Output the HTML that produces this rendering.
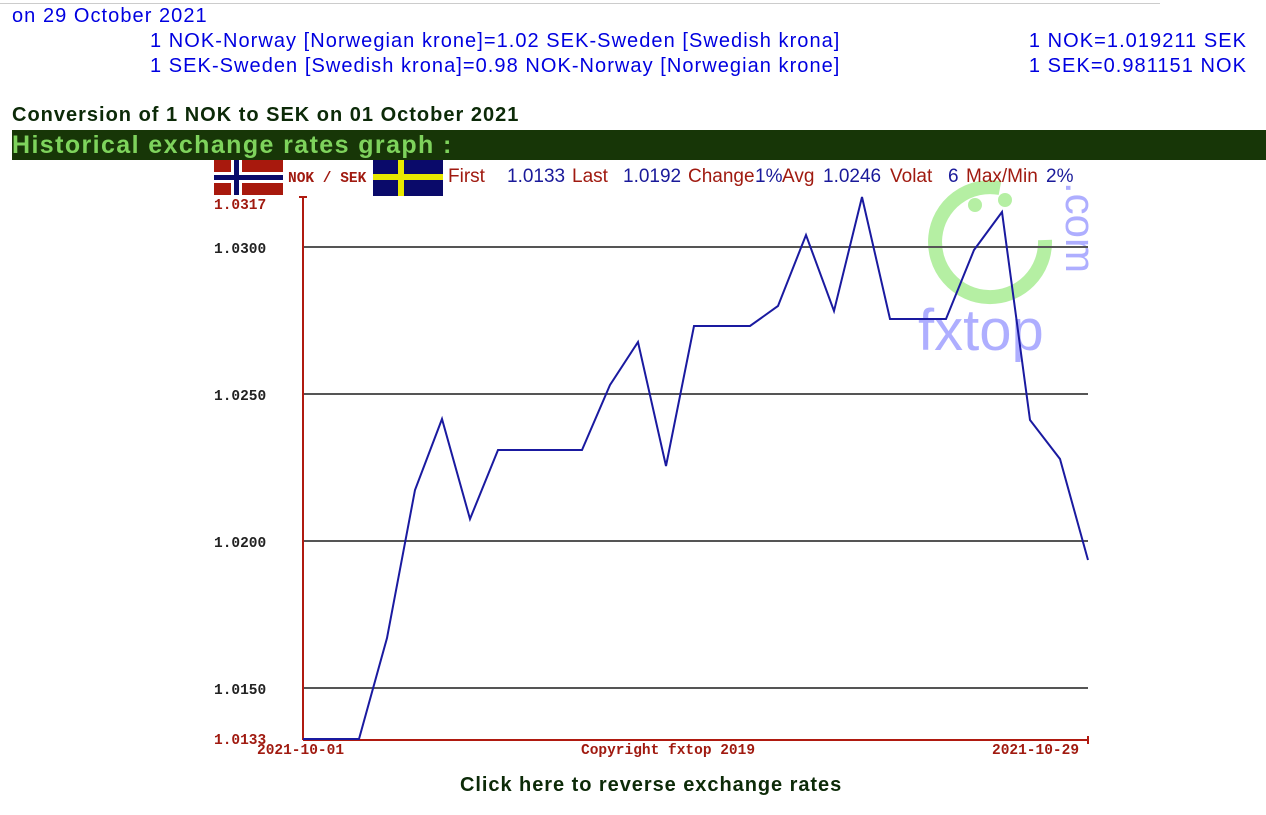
<!DOCTYPE html>
<html><head><style>
body{margin:0;width:1266px;height:815px;background:#fff;font-family:"Liberation Sans",sans-serif;position:relative;overflow:hidden}
.a{position:absolute;white-space:nowrap}
.b{color:#0000e0;font-size:20px;letter-spacing:1.05px}
</style></head><body>
<div class="a" style="left:0;top:3px;width:1160px;border-top:1px solid #ccc"></div>
<div class="a b" style="left:12px;top:5px">on 29 October 2021</div>
<div class="a b" style="left:150px;top:30px">1 NOK-Norway [Norwegian krone]=1.02 SEK-Sweden [Swedish krona]</div>
<div class="a b" style="left:150px;top:55px">1 SEK-Sweden [Swedish krona]=0.98 NOK-Norway [Norwegian krone]</div>
<div class="a b" style="right:19px;top:30px">1 NOK=1.019211 SEK</div>
<div class="a b" style="right:19px;top:55px">1 SEK=0.981151 NOK</div>
<div class="a" style="left:12px;top:104px;font-size:20px;letter-spacing:1px;font-weight:bold;color:#0c2a08">Conversion of 1 NOK to SEK on 01 October 2021</div>
<div class="a" style="left:12px;top:130px;width:1254px;height:30px;background:#173607;color:#7ed35c;font-weight:bold;font-size:25px;letter-spacing:1.4px;line-height:30px">Historical exchange rates graph :</div>
<div class="a" style="left:460px;top:774px;font-size:20px;letter-spacing:0.95px;font-weight:bold;color:#0c2a08">Click here to reverse exchange rates</div>
<svg class="a" style="left:0;top:0" width="1266" height="815">
<g opacity="0.5">
<path d="M1000 188 A55 55 0 1 0 1045 240" fill="none" stroke="#6de04a" stroke-width="14"/>
<circle cx="975" cy="205" r="7" fill="#6de04a"/><circle cx="1005" cy="200" r="7" fill="#6de04a"/>
<text x="918" y="350" font-family="Liberation Sans,sans-serif" font-size="58" fill="#6060ff">fxtop</text>
<text x="1066" y="182" font-family="Liberation Sans,sans-serif" font-size="42" fill="#6060ff" transform="rotate(90 1066 182)">.com</text>
</g>
<g font-family="Liberation Mono,monospace" font-weight="bold" font-size="14.5">
<rect x="214" y="160" width="69" height="35" fill="#a8190d"/><rect x="214" y="172" width="69" height="11" fill="#fff"/><rect x="231" y="160" width="11" height="35" fill="#fff"/><rect x="214" y="175" width="69" height="5" fill="#0a0a6a"/><rect x="234" y="160" width="5" height="35" fill="#0a0a6a"/>
<text x="288" y="182" fill="#a01a10">NOK / SEK</text>
<rect x="373" y="160" width="70" height="36" fill="#0a0a6a"/><rect x="373" y="174" width="70" height="6" fill="#e8e800"/><rect x="398" y="160" width="6" height="36" fill="#e8e800"/>
</g>
<g font-family="Liberation Sans,sans-serif" font-size="19">
<text x="448" y="182" fill="#a01a10">First</text><text x="507" y="182" fill="#1a1a9a">1.0133</text>
<text x="572" y="182" fill="#a01a10">Last</text><text x="623" y="182" fill="#1a1a9a">1.0192</text>
<text x="688" y="182" fill="#a01a10">Change</text><text x="755" y="182" fill="#1a1a9a">1%</text>
<text x="782" y="182" fill="#a01a10">Avg</text><text x="823" y="182" fill="#1a1a9a">1.0246</text>
<text x="890" y="182" fill="#a01a10">Volat</text><text x="948" y="182" fill="#1a1a9a">6</text>
<text x="966" y="182" fill="#a01a10">Max/Min</text><text x="1046" y="182" fill="#1a1a9a">2%</text>
</g>
<g stroke="#555" stroke-width="2">
<line x1="303" y1="247" x2="1088" y2="247"/><line x1="303" y1="394" x2="1088" y2="394"/><line x1="303" y1="541" x2="1088" y2="541"/><line x1="303" y1="688" x2="1088" y2="688"/>
</g>
<g stroke="#b01a10" stroke-width="2">
<line x1="303" y1="197" x2="303" y2="740"/><line x1="299" y1="197" x2="307" y2="197"/><line x1="303" y1="740" x2="1088" y2="740"/><line x1="1088" y1="736" x2="1088" y2="744"/>
</g>
<polyline fill="none" stroke="#1a1aa0" stroke-width="2" points="303,739 359,739 387,638 415,490 442,419 470,519 498,450 526,450 554,450 582,450 610,385 638,342 666,466 694,326 722,326 750,326 778,306 806,235 834,311 862,197 890,319 918,319 946,319 974,250 1002,212 1030,420 1060,459 1088,560"/>
<g font-family="Liberation Mono,monospace" font-weight="bold" font-size="14.5">
<text x="214" y="209" fill="#a01a10">1.0317</text>
<text x="214" y="253" fill="#222">1.0300</text><text x="214" y="400" fill="#222">1.0250</text><text x="214" y="547" fill="#222">1.0200</text><text x="214" y="694" fill="#222">1.0150</text>
<text x="214" y="744" fill="#a01a10">1.0133</text>
<text x="257" y="754" fill="#a01a10">2021-10-01</text>
<text x="581" y="754" fill="#a01a10">Copyright fxtop 2019</text>
<text x="992" y="754" fill="#a01a10">2021-10-29</text>
</g>
</svg>
</body></html>
